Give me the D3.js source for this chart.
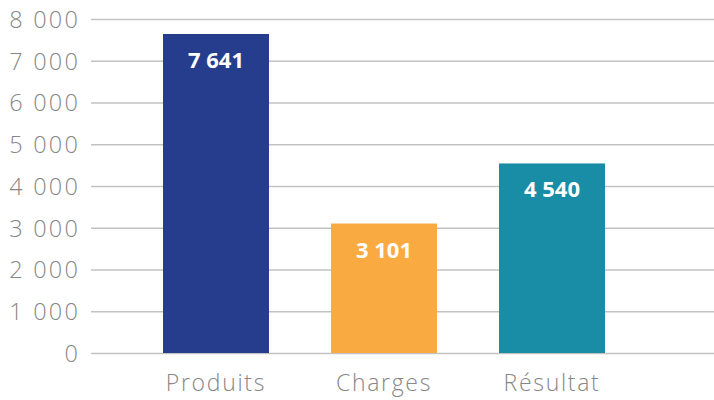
<!DOCTYPE html>
<html><head><meta charset="utf-8">
<script src="https://cdn.jsdelivr.net/npm/d3@7"></script>
<style>
html,body{margin:0;padding:0;background:#fff;}
svg{display:block;}
</style></head>
<body>
<svg id="chart" width="714" height="400"></svg>
<script>
const categories = ["Produits", "Charges", "Résultat"];
const values = [7641, 3101, 4540];
const colors = ["#253d8c", "#f9aa40", "#1a8da6"];
const yTicks = [0, 1000, 2000, 3000, 4000, 5000, 6000, 7000, 8000];

const svg = d3.select("#chart");
const fr = d3.formatLocale({thousands: " ", grouping: [3], decimal: ",", currency: ["", " €"]});
const fmt = fr.format(",");

const gridLeft = 91, gridRight = 714;
const y = d3.scaleLinear().domain([0, 8000]).range([353, 19]);
const x = d3.scaleBand().domain(categories).range([132, 636]).paddingInner(0.369).paddingOuter(0.1845);

const yAxis = svg.append("g").attr("transform", `translate(${gridLeft},0)`)
  .call(d3.axisLeft(y).tickValues(yTicks).tickFormat(fmt).tickSize(-(gridRight - gridLeft)).tickPadding(11));
yAxis.select(".domain").remove();
yAxis.selectAll("line").attr("stroke", "#c2c2c2").attr("stroke-width", 1.3);
yAxis.selectAll("text").attr("fill", "#878787").style("font-family", "'Open Sans', sans-serif")
  .style("font-weight", 300).style("font-size", "23.5px").style("letter-spacing", "2.2px").attr("dy", "0.36em");

const xAxis = svg.append("g").attr("transform", `translate(0,${y(0)})`)
  .call(d3.axisBottom(x).tickSize(0).tickPadding(22));
xAxis.select(".domain").remove();
xAxis.selectAll("text").attr("fill", "#878787").style("font-family", "'Open Sans', sans-serif")
  .style("font-weight", 300).style("font-size", "23px").style("letter-spacing", "1.7px");

svg.append("g").selectAll("rect").data(values).join("rect")
  .attr("x", (d, i) => x(categories[i]))
  .attr("width", x.bandwidth())
  .attr("y", d => y(d))
  .attr("height", d => y(0) - y(d))
  .attr("fill", (d, i) => colors[i]);

svg.append("g").selectAll("text").data(values).join("text")
  .attr("x", (d, i) => x(categories[i]) + x.bandwidth() / 2)
  .attr("y", d => y(d) + 34)
  .attr("text-anchor", "middle")
  .attr("fill", "#fff")
  .style("font-family", "'Open Sans', sans-serif")
  .style("font-weight", 700)
  .style("font-size", "22px")
  .text(d => fmt(d));
</script>
</body></html>
